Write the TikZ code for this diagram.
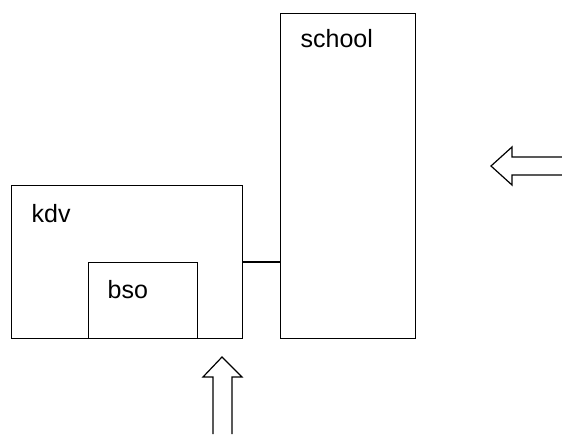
\documentclass[tikz,border=0pt]{standalone}
\usepackage{fontspec}
\setmainfont{Liberation Sans}
\begin{document}
\begin{tikzpicture}[x=1pt,y=-1pt,line width=1.2pt,
  box/.style={draw=black,line width=1.2pt,inner sep=0pt,anchor=north west},
  lbl/.style={inner sep=0pt,anchor=base west,font=\fontsize{25}{30}\selectfont}]
\useasboundingbox (0,0) rectangle (562,434);
\node[box,minimum width=231pt,minimum height=153pt] (kdv) at (11,185) {};
\node[box,minimum width=109pt,minimum height=76pt] (bso) at (88,262) {};
\node[box,minimum width=135pt,minimum height=325pt] (school) at (280,13) {};
\node[lbl] (tkdv) at (31,222) {kdv};
\node[lbl] (tbso) at (107,298) {bso};
\node[lbl] (tschool) at (300,47) {school};
\draw (kdv.east |- bso.north) -- (school.west |- bso.north);
% left arrow
\draw[line join=miter] (562,157) -- (512,157) -- (512,147) -- (491,166) -- (512,185) -- (512,175) -- (562,175);
% up arrow
\draw[line join=miter] (213,434) -- (213,377) -- (203,377) -- (222,357) -- (242,377) -- (232,377) -- (232,434);
\end{tikzpicture}
\end{document}
